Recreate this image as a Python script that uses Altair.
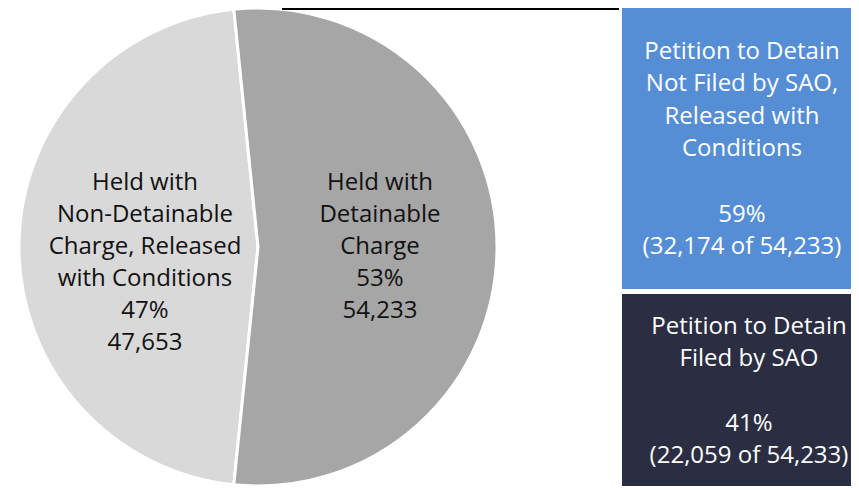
import math
import altair as alt
import pandas as pd

# ---- data ----
pie_categories = ["Held with Non-Detainable Charge, Released with Conditions",
                  "Held with Detainable Charge"]
pie_counts = [47653, 54233]
pie_pcts = ["47%", "53%"]
pie_lines = [["Held with", "Non-Detainable", "Charge, Released", "with Conditions", "47%", "47,653"],
             ["Held with", "Detainable", "Charge", "53%", "54,233"]]
pie_colors = ["#d9d9d9", "#a6a6a6"]

bar_categories = ["Petition to Detain Filed by SAO",
                  "Petition to Detain Not Filed by SAO, Released with Conditions"]
bar_counts = [22059, 32174]
bar_total = 54233
bar_titles = [["Petition to Detain", "Filed by SAO"],
              ["Petition to Detain", "Not Filed by SAO,", "Released with", "Conditions"]]
bar_values = [["41%", "(22,059 of 54,233)"],
              ["59%", "(32,174 of 54,233)"]]
bar_colors = ["#2b2d42", "#558ed5"]

FONT = "Open Sans"
FS = 24
W, H = 843, 478

pie_df = pd.DataFrame({
    "cat": pie_categories,
    "count": pie_counts,
    "ord": [0, 1],
    "label": ["\n".join(l) for l in pie_lines],
})
bar_df = pd.DataFrame({
    "cat": bar_categories,
    "count": bar_counts,
    "ord": [0, 1],
    "title": ["\n".join(l) for l in bar_titles],
    "value": ["\n".join(l) for l in bar_values],
})

# detainable slice centered on the right (3 o'clock)
frac_det = pie_counts[1] / sum(pie_counts)
start = math.pi / 2 + math.pi * frac_det
theta_scale = alt.Scale(range=[start, start + 2 * math.pi])

cx, cy, R = 250, 239, 239

pie = alt.Chart(pie_df).mark_arc(radius=R, stroke="white", strokeWidth=3).encode(
    theta=alt.Theta("count:Q", stack=True, scale=theta_scale),
    order=alt.Order("ord:Q"),
    x=alt.value(cx),
    y=alt.value(cy),
    color=alt.Color("cat:N", scale=alt.Scale(domain=pie_categories, range=pie_colors), legend=None),
)
pie_kw = dict(baseline="top", font=FONT, fontSize=FS, lineHeight=32, lineBreak="\n", color="#111111")
pie_text_left = alt.Chart(pie_df).transform_filter("datum.ord == 0").mark_text(**pie_kw).encode(
    x=alt.value(137), y=alt.value(163), text="label:N"
)
pie_text_right = alt.Chart(pie_df).transform_filter("datum.ord == 1").mark_text(**pie_kw).encode(
    x=alt.value(372), y=alt.value(163), text="label:N"
)

bar_x0, bar_x1 = 614, W + 5
y_scale = alt.Scale(domain=[0, bar_total])
bar_base = alt.Chart(bar_df).transform_stack(
    stack="count", groupby=[], as_=["y0", "y1"], sort=[alt.SortField("ord")]
).transform_calculate(mid="(datum.y0 + datum.y1) / 2")

bars = bar_base.mark_rect().encode(
    y=alt.Y("y0:Q", scale=y_scale, axis=None),
    y2="y1:Q",
    x=alt.value(bar_x0),
    x2=alt.value(bar_x1),
    color=alt.Color("cat:N", scale=alt.Scale(domain=bar_categories, range=bar_colors), legend=None),
)
gap = bar_base.transform_filter("datum.ord == 0").mark_rule(color="white", strokeWidth=5).encode(
    y=alt.Y("y1:Q", scale=y_scale, axis=None),
    x=alt.value(bar_x0),
    x2=alt.value(bar_x1),
)
text_kw = dict(font=FONT, fontSize=FS, lineHeight=32.5, lineBreak="\n",
               color="white", baseline="top")


def bar_text(ord_, field, dy, xpos):
    return bar_base.transform_filter(f"datum.ord == {ord_}").mark_text(dy=dy, **text_kw).encode(
        y=alt.Y("mid:Q", scale=y_scale, axis=None),
        x=alt.value(xpos),
        text=f"{field}:N",
    )


navy_title = bar_text(0, "title", -74, 741)
navy_value = bar_text(0, "value", 23, 741)
blue_title = bar_text(1, "title", -110, 734)
blue_value = bar_text(1, "value", 53, 734)

connector = alt.Chart(pie_df).mark_rule(color="black", strokeWidth=2).encode(
    x=alt.value(274), x2=alt.value(611), y=alt.value(1)
)

chart = alt.layer(pie, pie_text_left, pie_text_right, bars, gap,
                  navy_title, navy_value, blue_title, blue_value,
                  connector).resolve_scale(
    color="independent"
).properties(
    width=W, height=H, padding=0, background="white",
    autosize=alt.AutoSizeParams(type="none")
).configure_view(stroke=None)

chart.save("out.html", embed_options={"renderer": "svg", "actions": False})
